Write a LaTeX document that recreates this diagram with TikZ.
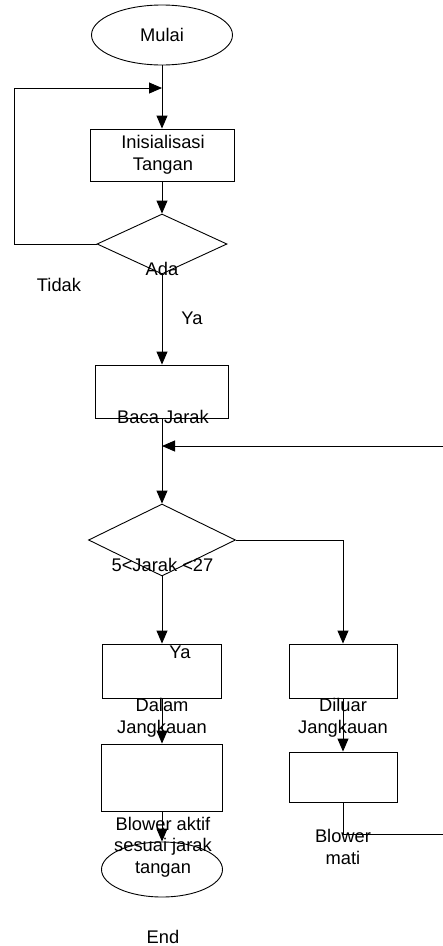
\documentclass[tikz,border=0pt]{standalone}
\usepackage{fontspec}
\setmainfont{Liberation Sans}
\usetikzlibrary{shapes.geometric,arrows.meta}
\begin{document}
\begin{tikzpicture}[x=1pt,y=-1pt,
  line width=0.9pt,
  shapebox/.style={draw,rectangle,inner sep=0pt},
  oval/.style={draw,ellipse,inner sep=0pt},
  decision/.style={draw,diamond,inner sep=0pt},
  lbl/.style={inner sep=0pt,align=center,font=\fontsize{18.3}{21.5}\selectfont},
  arr/.style={-{Triangle[length=13pt,width=11pt]}}]
\useasboundingbox (0,0) rectangle (443,946);
% shapes
\node[oval,minimum width=141pt,minimum height=60pt] (start) at (162,35) {};
\node[shapebox,minimum width=144pt,minimum height=52pt] (init) at (162,155) {};
\node[decision,minimum width=130pt,minimum height=60pt] (d1) at (162,244) {};
\node[shapebox,minimum width=133pt,minimum height=53pt] (baca) at (162,391.5) {};
\node[decision,minimum width=147pt,minimum height=72pt] (d2) at (162,540) {};
\node[shapebox,minimum width=119pt,minimum height=54pt] (dalam) at (162,671) {};
\node[shapebox,minimum width=121pt,minimum height=67pt] (aktif) at (162,777.5) {};
\node[oval,minimum width=121pt,minimum height=55pt] (endn) at (162,869.5) {};
\node[shapebox,minimum width=108pt,minimum height=54pt] (diluar) at (343,671) {};
\node[shapebox,minimum width=108pt,minimum height=50pt] (mati) at (343,777) {};
% junctions
\coordinate (j1) at (162,88);
\coordinate (j2) at (162,446);
\coordinate (l1) at (14,244);
\coordinate (l2) at (14,88);
\coordinate (c1) at (343,540);
\coordinate (r1) at (343,834);
\coordinate (r2) at (446,834);
\coordinate (r3) at (446,446);
% connectors
\draw[arr] (start.south) -- (init.north);
\draw[arr] (init.south) -- (d1.north);
\draw[arr] (d1.west) -- (l1) -- (l2) -- (j1);
\draw[arr] (d1.south) -- (baca.north);
\draw[arr] (baca.south) -- (d2.north);
\draw[arr] (d2.south) -- (dalam.north);
\draw[arr] (d2.east) -- (c1) -- (diluar.north);
\draw[arr] (dalam.south) -- (aktif.north);
\draw[arr] (aktif.south) -- (endn.north);
\draw[arr] (diluar.south) -- (mati.north);
\draw[arr] (mati.south) -- (r1) -- (r2) -- (r3) -- (j2);
% labels
\node[lbl] (tmulai) at (162,35) {Mulai};
\node[lbl] (tinit) at (163,155) {Inisialisasi\\Tangan};
\node[lbl] (tada) at (162,269) {Ada};
\node[lbl] (ttidak) at (59,285) {Tidak};
\node[lbl] (tya1) at (192,318) {Ya};
\node[lbl] (tbaca) at (163,417) {Baca Jarak};
\node[lbl] (tjarak) at (162.5,565) {5<Jarak <27};
\node[lbl] (tya2) at (180,652) {Ya};
\node[lbl] (tdalam) at (162,718) {Dalam\\Jangkauan};
\node[lbl] (taktif) at (163,847) {Blower aktif\\sesuai jarak\\tangan};
\node[lbl] (tend) at (163,937) {End};
\node[lbl] (tdiluar) at (343,718) {Diluar\\Jangkauan};
\node[lbl] (tmati) at (343,847) {Blower\\mati};
\end{tikzpicture}
\end{document}
